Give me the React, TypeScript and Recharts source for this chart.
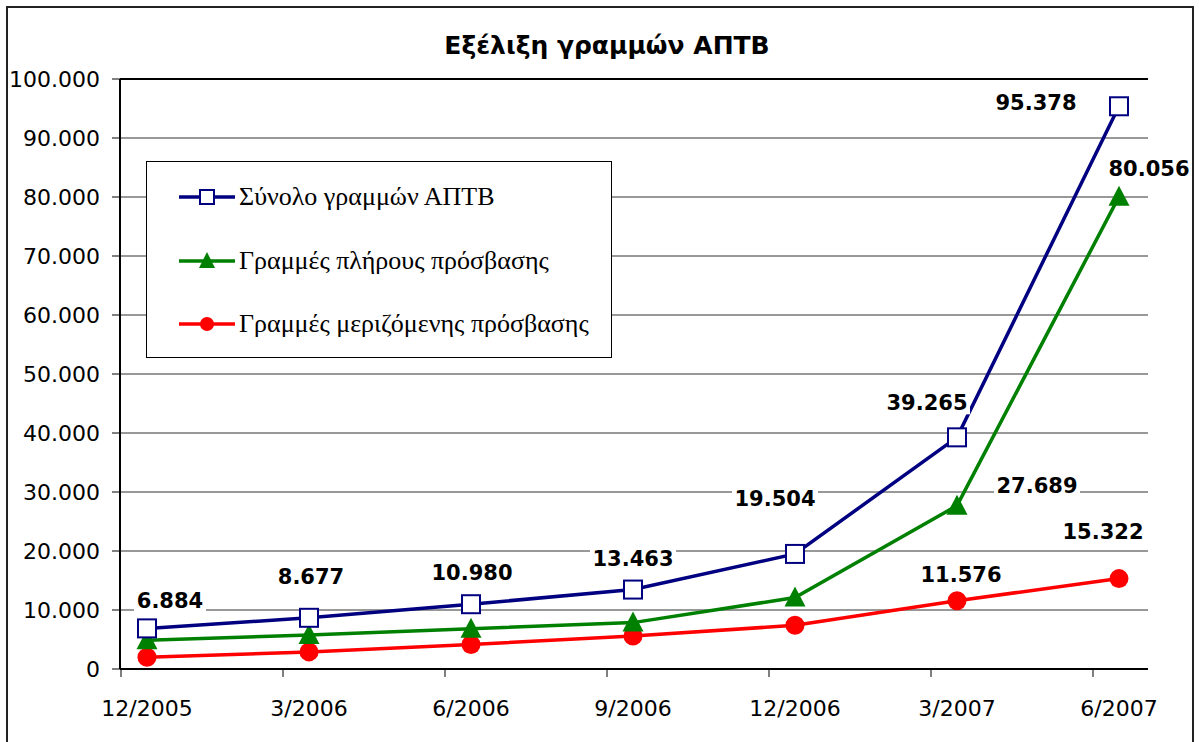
import React from "react"
import {
  LineChart, Line, XAxis, YAxis, CartesianGrid, ReferenceLine, LabelList,
} from "recharts"

// periods on the x axis
const periods = ["12/2005", "3/2006", "6/2006", "9/2006", "12/2006", "3/2007", "6/2007"]
// total lines (sum of the two others)
const totalLines = [6884, 8677, 10980, 13463, 19504, 39265, 95378]
// full access lines
const fullAccess = [4884, 5777, 6830, 7863, 12104, 27689, 80056]
// shared access lines
const sharedAccess = [2000, 2900, 4150, 5600, 7400, 11576, 15322]
const yTicks = [0, 10000, 20000, 30000, 40000, 50000, 60000, 70000, 80000, 90000, 100000]

const seriesNames = [
  "Σύνολο γραμμών ΑΠΤΒ",
  "Γραμμές πλήρους πρόσβασης",
  "Γραμμές μεριζόμενης πρόσβασης",
]

// label placement relative to the point (null = no label)
const totalLabelPos: ([number, number] | null)[] = [[23, -27], [2, -41], [1, -31], [0, -31], [-20, -55], [-30, -34], [-83, -3]]
const fullLabelPos: ([number, number] | null)[] = [null, null, null, null, null, [80, -20], [30, -28]]
const sharedLabelPos: ([number, number] | null)[] = [null, null, null, null, null, [4, -26], [-16, -47]]

const data = periods.map((p, i) => ({
  period: p,
  total: totalLines[i],
  full: fullAccess[i],
  shared: sharedAccess[i],
}))

const NAVY = "#000080"
const GREEN = "#008000"
const RED = "#FF0000"
const AXIS_FONT = "'DejaVu Sans', sans-serif"

const fmt = (v: number) => String(v).replace(/\B(?=(\d{3})+(?!\d))/g, ".")

const makeLabel = (pos: ([number, number] | null)[]) => (props: any) => {
  const { x, y, value, index } = props
  const off = pos[index]
  if (!off || x == null || y == null) return null
  const cx = Number(x) + off[0]
  const cy = Number(y) + off[1]
  const txt = fmt(Number(value))
  const w = txt.length * 14 + 2
  return (
    <g key={`lbl-${index}`}>
      <rect x={cx - w / 2} y={cy - 11} width={w} height={22} fill="#fff" />
      <text x={cx} y={cy} textAnchor="middle" dominantBaseline="central"
        fontFamily={AXIS_FONT} fontWeight="bold" fontSize={21} fill="#000">
        {txt}
      </text>
    </g>
  )
}

const SquareDot = (props: any) => {
  const { cx, cy, index } = props
  return <rect key={`sq-${index}`} x={cx - 9} y={cy - 9} width={18} height={18} fill="#fff" stroke={NAVY} strokeWidth={2} />
}

const TriangleDot = (props: any) => {
  const { cx, cy, index } = props
  return <path key={`tr-${index}`} d={`M${cx},${cy - 11} L${cx + 10.5},${cy + 9} L${cx - 10.5},${cy + 9} Z`} fill={GREEN} />
}

const CircleDot = (props: any) => {
  const { cx, cy, index } = props
  return <circle key={`ci-${index}`} cx={cx} cy={cy} r={9.5} fill={RED} />
}

const XTick = (props: any) => {
  const { x, y, payload } = props
  return (
    <g>
      <line x1={x - 26} x2={x - 26} y1={y - 8} y2={y} stroke="#000" strokeWidth={1} />
      <text x={x} y={y + 31} textAnchor="middle" dominantBaseline="central"
        fontFamily={AXIS_FONT} fontSize={22} fill="#000">
        {payload.value}
      </text>
    </g>
  )
}

const LegendBox = () => {
  const markers = [
    <rect x={21} y={-7} width={14} height={14} fill="#fff" stroke={NAVY} strokeWidth={2} />,
    <path d="M28,-9 L36,7 L20,7 Z" fill={GREEN} />,
    <circle cx={28} cy={0} r={7} fill={RED} />,
  ]
  const colors = [NAVY, GREEN, RED]
  return (
    <div style={{
      position: "absolute", left: 146, top: 161, width: 464, height: 195,
      border: "1px solid #000", background: "#fff", zIndex: 2,
    }}>
      {seriesNames.map((n, i) => (
        <div key={n} style={{
          position: "absolute", left: 30, top: 35 + i * 63.5 - 16, height: 32,
          display: "flex", alignItems: "center", whiteSpace: "nowrap",
        }}>
          <svg width={60} height={32} style={{ overflow: "visible" }}>
            <g transform="translate(2,16)">
              <line x1={0} x2={56} y1={0} y2={0} stroke={colors[i]} strokeWidth={3.5} />
              {markers[i]}
            </g>
          </svg>
          <span style={{
            fontFamily: "'Liberation Serif', 'Times New Roman', serif",
            fontSize: 26, color: "#000", marginLeft: 2,
          }}>{n}</span>
        </div>
      ))}
    </div>
  )
}

export default function App() {
  return (
    <div style={{
      position: "absolute", left: 0, top: 0, width: 1199, height: 742,
      background: "#fff", overflow: "hidden",
    }}>
      <div style={{
        position: "absolute", left: 6, top: 6, width: 1188, height: 760,
        border: "2px solid #222", boxSizing: "border-box",
      }} />
      <div style={{
        position: "absolute", left: 0, top: 33, width: 1214, textAlign: "center",
        fontFamily: AXIS_FONT, fontWeight: "bold",
        fontSize: 25, lineHeight: "25px", color: "#000", zIndex: 2,
      }}>
        Εξέλιξη γραμμών ΑΠΤΒ
      </div>
      <div style={{ position: "absolute", left: 0, top: 0 }}>
        <LineChart width={1199} height={742} data={data}
          margin={{ top: 79, right: 51, bottom: 13, left: 10 }}>
          <CartesianGrid vertical={false} stroke="#333" strokeWidth={1} yAxisId="left" />
          <XAxis dataKey="period" height={60} padding={{ left: 27, right: 29 }}
            axisLine={{ stroke: "#000", strokeWidth: 2 }} tickLine={false}
            tickSize={8} tickMargin={0} tick={<XTick />} interval={0} />
          <YAxis yAxisId="left" width={110} domain={[0, 100000]} ticks={yTicks}
            tickFormatter={fmt} interval={0}
            axisLine={{ stroke: "#000", strokeWidth: 2 }}
            tickLine={{ stroke: "#000" }} tickSize={8} tickMargin={12}
            tick={{ fontFamily: AXIS_FONT, fontSize: 22, fill: "#000" }} />
          <YAxis yAxisId="right" orientation="right" width={0} domain={[0, 100000]}
            tick={false} tickLine={false} axisLine={{ stroke: "#000", strokeWidth: 2 }} />
          <ReferenceLine yAxisId="left" y={100000} stroke="#000" strokeWidth={2} />
          <Line yAxisId="left" dataKey="shared" name={seriesNames[2]} stroke={RED} strokeWidth={3.5}
            dot={<CircleDot />} isAnimationActive={false}>
            <LabelList dataKey="shared" content={makeLabel(sharedLabelPos)} />
          </Line>
          <Line yAxisId="left" dataKey="full" name={seriesNames[1]} stroke={GREEN} strokeWidth={3.5}
            dot={<TriangleDot />} isAnimationActive={false}>
            <LabelList dataKey="full" content={makeLabel(fullLabelPos)} />
          </Line>
          <Line yAxisId="left" dataKey="total" name={seriesNames[0]} stroke={NAVY} strokeWidth={3.5}
            dot={<SquareDot />} isAnimationActive={false}>
            <LabelList dataKey="total" content={makeLabel(totalLabelPos)} />
          </Line>
        </LineChart>
      </div>
      <LegendBox />
    </div>
  )
}
